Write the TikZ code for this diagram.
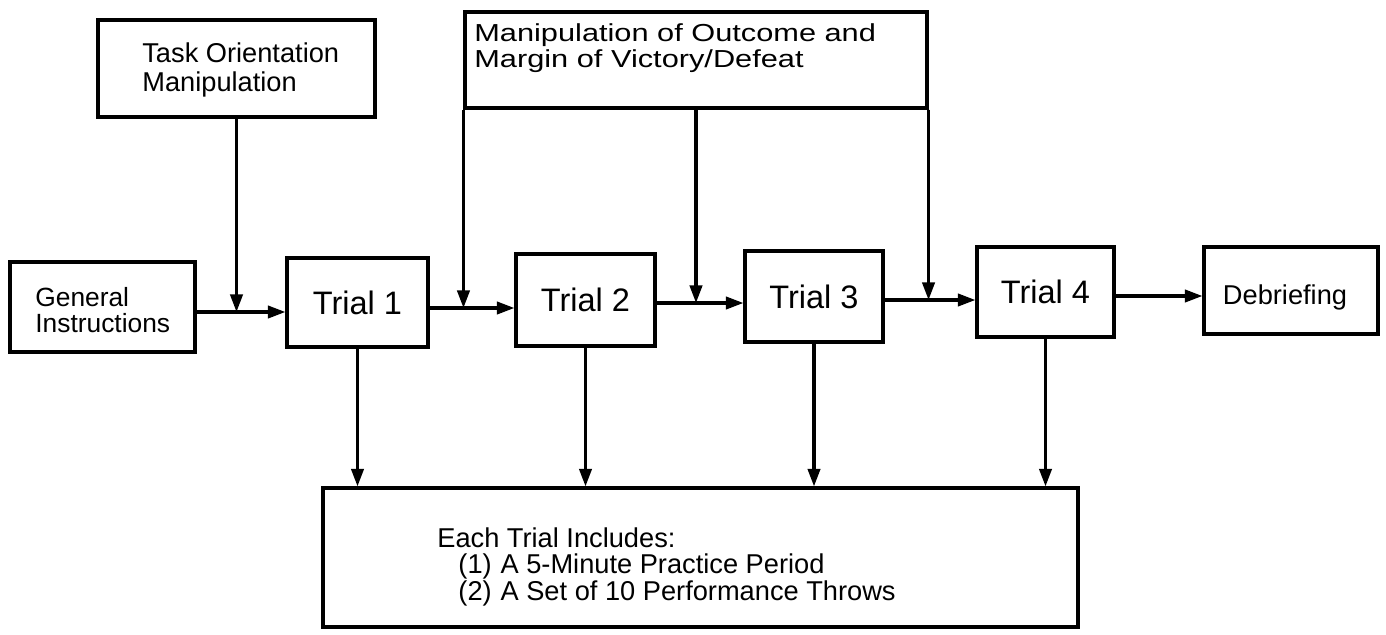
\documentclass[tikz,border=0pt]{standalone}
\usepackage{fontspec}
\setmainfont{Liberation Sans}
\newfontfamily\widesans[FakeStretch=1.25]{Liberation Sans}
\usetikzlibrary{arrows.meta}
\begin{document}
\begin{tikzpicture}[x=0.02cm,y=-0.02cm,
  box/.style={draw=black, line width=1.8pt, rectangle, inner sep=0pt},
  conn/.style={line width=1.8pt, -{Triangle[length=10pt,width=7pt]}},
  small/.style={font=\fontsize{15.5}{16.5}\selectfont},
  big/.style={font=\fontsize{18.5}{20}\selectfont}]
\useasboundingbox (0,0) rectangle (1386,635);

% boxes
\node[box, minimum width=5.54cm, minimum height=1.94cm] (task) at (236.5,68.5) {};
\node[small, anchor=west, align=left, inner sep=0pt] (tasktxt) at (142,70) {Task Orientation\\Manipulation};

\node[box, minimum width=9.24cm, minimum height=1.92cm] (man) at (696,60) {};
\node[font=\widesans\fontsize{14}{14.5}\selectfont, anchor=west, align=left, inner sep=0pt] (mantxt) at (474,48) {Manipulation of Outcome and\\Margin of Victory/Defeat};

\node[box, minimum width=3.70cm, minimum height=1.80cm] (gen) at (102.5,307) {};
\node[font=\fontsize{15}{14.5}\selectfont, anchor=west, align=left, inner sep=0pt] (gentxt) at (35,310) {General\\Instructions};

\node[box, big, minimum width=2.82cm, minimum height=1.78cm] (t1) at (357.5,302.5) {Trial 1};
\node[box, big, minimum width=2.78cm, minimum height=1.84cm] (t2) at (585.5,300) {Trial 2};
\node[box, big, minimum width=2.76cm, minimum height=1.82cm] (t3) at (814,296.5) {Trial 3};
\node[box, big, minimum width=2.74cm, minimum height=1.80cm] (t4) at (1045.5,292) {Trial 4};
\node[box, minimum width=3.48cm, minimum height=1.74cm] (deb) at (1291,290.5) {};
\node[small, inner sep=0pt] (debtxt) at (1285,297) {Debriefing};

\node[box, minimum width=15.10cm, minimum height=2.78cm] (bot) at (700.5,557.5) {};
\node[font=\fontsize{15.5}{15.3}\selectfont, anchor=north west, align=left, inner sep=0pt] (bottxt) at (437,527)
  {Each Trial Includes:\\\hspace*{12pt}\makebox[24pt][l]{(1)}A 5-Minute Practice Period\\\hspace*{12pt}\makebox[24pt][l]{(2)}A Set of 10 Performance Throws};

% connectors
\coordinate (h1) at (0,312);
\coordinate (h2) at (0,308);
\coordinate (h3) at (0,303);
\coordinate (h4) at (0,300);
\coordinate (h5) at (0,296);
\draw[conn] (gen.east |- h1) -- (t1.west |- h1);
\draw[conn] (task.south) -- (task.south |- h1);
\draw[conn] (t1.east |- h2) -- (t2.west |- h2);
\draw[conn] (man.south west) -- (man.south west |- h2);
\draw[conn] (t2.east |- h3) -- (t3.west |- h3);
\draw[conn] (man.south) -- (man.south |- h3);
\draw[conn] (t3.east |- h4) -- (t4.west |- h4);
\draw[conn] (man.south east) -- (man.south east |- h4);
\draw[conn] (t4.east |- h5) -- (deb.west |- h5);
\foreach \t in {t1,t2,t3,t4} \draw[conn] (\t.south) -- (\t.south |- bot.north);
\end{tikzpicture}
\end{document}
